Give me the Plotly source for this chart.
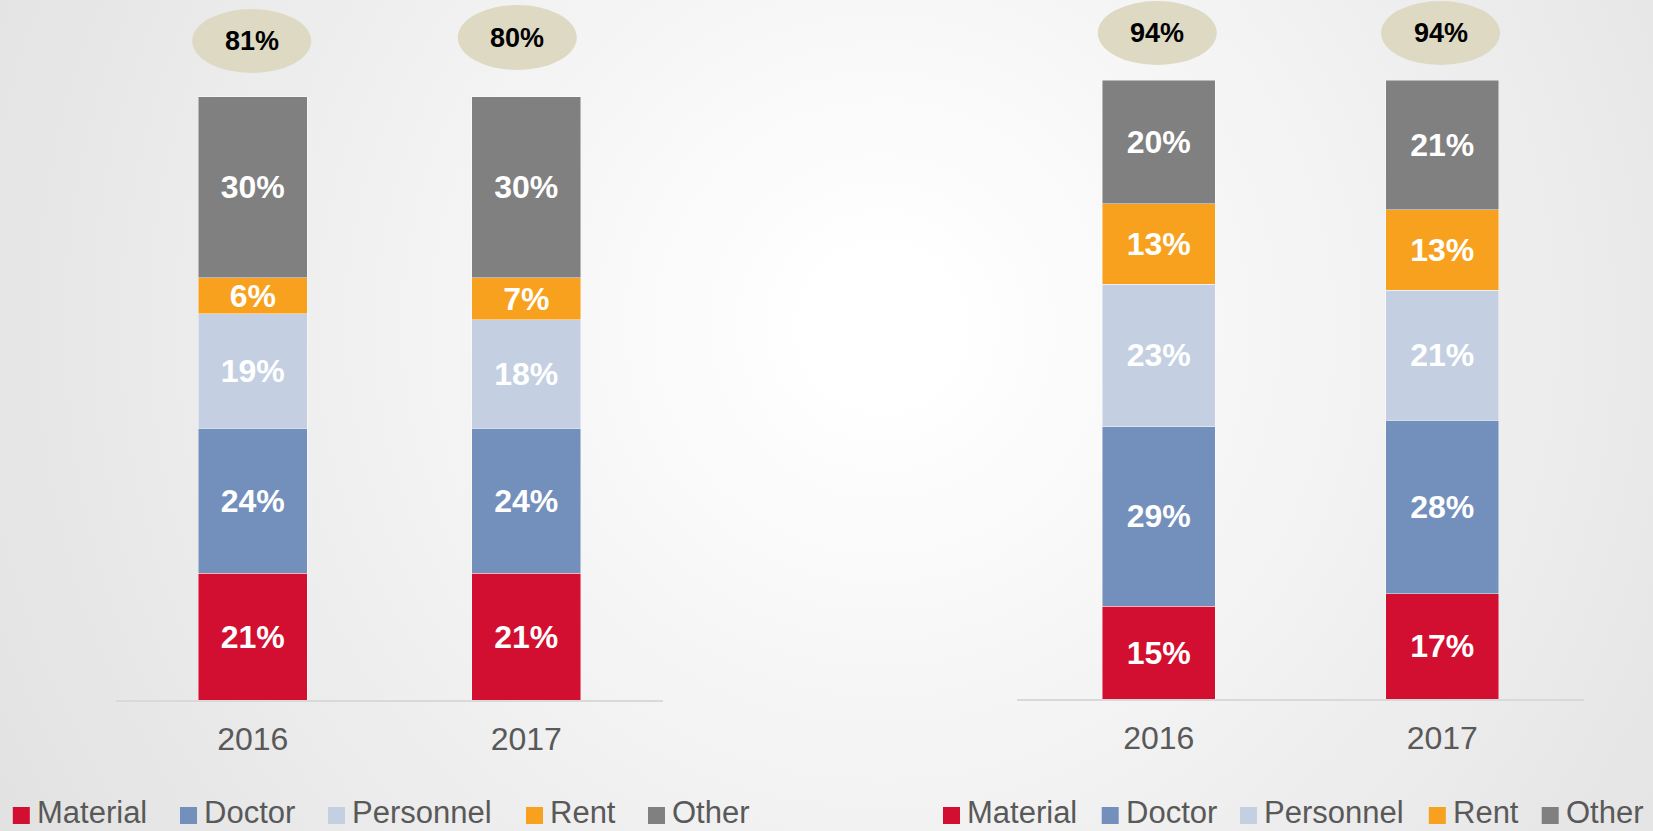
import base64
import plotly.graph_objects as go

# ---- data -------------------------------------------------------------
years = ["2016", "2017"]
series_names = ["Material", "Doctor", "Personnel", "Rent", "Other"]

left_material = [21, 21]
left_doctor = [24, 24]
left_personnel = [19, 18]
left_rent = [6, 7]
left_other = [30, 30]
left_totals = [81, 80]

right_material = [15, 17]
right_doctor = [29, 28]
right_personnel = [23, 21]
right_rent = [13, 13]
right_other = [20, 21]
right_totals = [94, 94]

# ---- style ------------------------------------------------------------
W, H = 1653, 831
FONT = "Liberation Sans, Arial, sans-serif"
colors = ["#d20f30", "#7390bd", "#c4d0e2", "#f8a11e", "#808080"]
badge_fill = "#ddd9c3"
tick_color = "#595959"

panels = [
    dict(xa="x", ya="y", values=[left_material, left_doctor, left_personnel, left_rent, left_other],
         totals=left_totals,
         # badge offsets (px): horizontal shift, gap above bar, height
         badge=[(-1, 23.5, 64), (-9, 26.5, 65)],
         legend_x=[12.8, 180, 328, 526, 648]),
    dict(xa="x2", ya="y2", values=[right_material, right_doctor, right_personnel, right_rent, right_other],
         totals=right_totals,
         badge=[(-1.5, 15, 64), (-1.7, 15, 64)],
         legend_x=[943, 1101.7, 1240, 1428.8, 1541.7]),
]

fig = go.Figure()

for p in panels:
    for name, vals, col in zip(series_names, p["values"], colors):
        fig.add_trace(go.Bar(
            x=years, y=vals, name=name,
            xaxis=p["xa"], yaxis=p["ya"],
            marker=dict(color=col, line=dict(color="rgba(255,255,255,0.55)", width=0.8)),
            text=[f"{v}%" for v in vals],
            textposition="inside", insidetextanchor="middle", textangle=0,
            constraintext="none",
            textfont=dict(family=FONT, size=32, color="white", weight="bold"),
            showlegend=False, hoverinfo="skip",
        ))

    # oval badges with the totals above each bar
    for i, (tot, (dx, gap, h)) in enumerate(zip(p["totals"], p["badge"])):
        top = sum(v[i] for v in p["values"])
        fig.add_shape(
            type="circle", xref=p["xa"], yref=p["ya"],
            xsizemode="pixel", ysizemode="pixel",
            xanchor=i, yanchor=top,
            x0=dx - 59.5, x1=dx + 59.5, y0=gap, y1=gap + h,
            fillcolor=badge_fill, line=dict(width=0), layer="above",
        )
        fig.add_annotation(
            xref=p["xa"], yref=p["ya"], x=i, y=top,
            xshift=dx, yshift=gap + h / 2, yanchor="middle", xanchor="center",
            text=f"{tot}%", showarrow=False,
            font=dict(family=FONT, size=27, color="black", weight="bold"),
        )

    # legend rows
    for name, col, lx in zip(series_names, colors, p["legend_x"]):
        fig.add_shape(
            type="rect", xref="paper", yref="paper",
            x0=lx / W, x1=(lx + 17) / W, y0=1 - 824 / H, y1=1 - 807 / H,
            fillcolor=col, line=dict(width=0),
        )
        fig.add_annotation(
            xref="paper", yref="paper", x=(lx + 23) / W, y=0,
            xanchor="left", yanchor="bottom", borderpad=0, text=name, showarrow=False,
            font=dict(family=FONT, size=31, color=tick_color),
        )

# soft radial background
svg = (
    f'<svg xmlns="http://www.w3.org/2000/svg" width="{W}" height="{H}">'
    '<defs><radialGradient id="g" gradientUnits="userSpaceOnUse" cx="882" cy="327" r="1000">'
    '<stop offset="0.07" stop-color="#ffffff"/><stop offset="1" stop-color="#e2e2e2"/>'
    '</radialGradient></defs>'
    f'<rect width="{W}" height="{H}" fill="url(#g)"/></svg>'
)
bg_src = "data:image/svg+xml;base64," + base64.b64encode(svg.encode()).decode()

axis_common = dict(
    type="category", showgrid=False, zeroline=False, showline=True,
    linecolor="#d9d9d9", linewidth=2, ticks="",
    tickfont=dict(family=FONT, size=32, color=tick_color),
    ticklabelstandoff=10, fixedrange=True,
)

fig.update_layout(
    width=W, height=H, margin=dict(l=0, r=0, t=0, b=0),
    paper_bgcolor="#ececec", plot_bgcolor="rgba(0,0,0,0)",
    barmode="stack", bargap=0.6,
    uniformtext=dict(minsize=32, mode="show"),
    images=[dict(source=bg_src, xref="paper", yref="paper", x=0, y=1,
                 sizex=1, sizey=1, sizing="stretch", xanchor="left", yanchor="top",
                 layer="below")],
    xaxis=dict(domain=[116 / W, 663 / W], anchor="y", **axis_common),
    xaxis2=dict(domain=[1017 / W, 1584 / W], anchor="y2", **axis_common),
    yaxis=dict(domain=[1 - 700 / H, 1], range=[0, 700 / 6.035], visible=False, fixedrange=True),
    yaxis2=dict(domain=[1 - 699 / H, 1], range=[0, 699 / 6.19], visible=False, fixedrange=True),
    showlegend=False,
)

fig.write_html("out.html")
